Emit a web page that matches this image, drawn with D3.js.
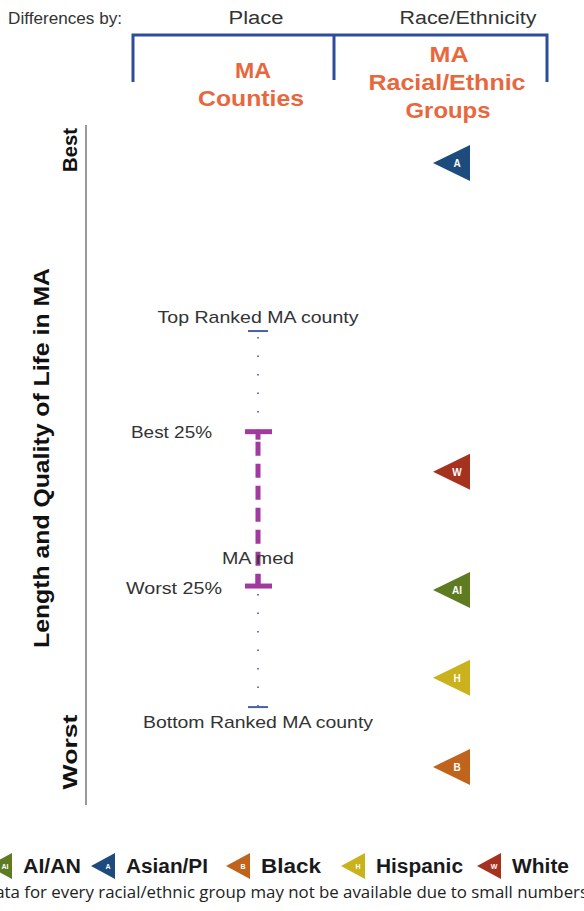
<!DOCTYPE html>
<html>
<head>
<meta charset="utf-8">
<script src="https://cdn.jsdelivr.net/npm/d3@7.9.0/dist/d3.min.js"></script>
<style>
  body { margin: 0; background: #fff; }
  svg { display: block; font-family: Arial, "Liberation Sans", sans-serif; }
</style>
</head>
<body>
<svg id="chart" width="584" height="911"></svg>
<script>
// rank position, 0 = best, 100 = worst
const groups = ['Asian/PI', 'White', 'AI/AN', 'Hispanic', 'Black'];
const groupCodes = ['A', 'W', 'AI', 'H', 'B'];
const groupRanks = [5.6, 51.0, 68.4, 81.3, 94.4];

const countyLabels = ['Top Ranked MA county', 'Best 25%', 'Worst 25%', 'Bottom Ranked MA county'];
const countyRanks = [30.3, 45.1, 67.8, 85.6];
const medianRank = 64.5;

const legendOrder = ['AI/AN', 'Asian/PI', 'Black', 'Hispanic', 'White'];

const colors = {
  'Asian/PI': '#1d4b7e',
  'White': '#a5321f',
  'AI/AN': '#5e7b22',
  'Hispanic': '#c9b21c',
  'Black': '#c0631c'
};

const svg = d3.select('#chart');
const y = d3.scaleLinear().domain([0, 100]).range([125, 805]);

// text helper, the source picture is stretched a bit wide
function txt(t, x, yy, size, opts = {}) {
  const el = svg.append('text').attr('x', x).attr('y', yy)
    .attr('font-size', size)
    .attr('text-anchor', opts.anchor || 'start')
    .attr('fill', opts.fill || '#333')
    .text(t);
  if (opts.bold) el.attr('font-weight', 'bold');
  if (opts.len) el.attr('textLength', opts.len).attr('lengthAdjust', 'spacingAndGlyphs');
  if (opts.family) el.attr('font-family', opts.family);
  return el;
}

// header
txt('Differences by:', 8, 24, 17, { len: 114 });
txt('Place', 256, 24, 18, { anchor: 'middle', len: 55 });
txt('Race/Ethnicity', 468, 24, 18, { anchor: 'middle', len: 137 });

const blue = '#2d4c9c';
svg.append('path')
  .attr('d', 'M133,82 V35 H547 V82 M334,35 V80')
  .attr('fill', 'none').attr('stroke', blue).attr('stroke-width', 3);

const orange = '#e8673c';
[['MA', 253, 78, 36], ['Counties', 251, 106, 106], ['MA', 449, 62, 39],
 ['Racial/Ethnic', 447, 90, 157], ['Groups', 448, 118, 85]]
  .forEach(([t, x, yy, len]) => txt(t, x, yy, 22, { anchor: 'middle', bold: true, fill: orange, len }));

// left axis
svg.append('line').attr('x1', 86).attr('x2', 86).attr('y1', y(0)).attr('y2', y(100))
  .attr('stroke', '#999').attr('stroke-width', 2);

function vtext(t, x, yy, size, len) {
  svg.append('text').attr('transform', `translate(${x},${yy}) rotate(-90)`)
    .attr('text-anchor', 'middle').attr('font-size', size).attr('font-weight', 'bold')
    .attr('textLength', len).attr('lengthAdjust', 'spacingAndGlyphs')
    .attr('fill', '#111').text(t);
}
vtext('Best', 77, 150, 21, 44);
vtext('Length and Quality of Life in MA', 49, 458, 22, 380);
vtext('Worst', 77, 752, 21, 75);

// county distribution
const cx = 258;
const purple = '#a2399f';
const dotCol = '#4a5b7a';

// dotted ends
svg.append('line').attr('x1', cx).attr('x2', cx).attr('y1', y(countyRanks[0]) + 6).attr('y2', y(countyRanks[1]))
  .attr('stroke', dotCol).attr('stroke-width', 1.6).attr('stroke-dasharray', '1.5 17');
svg.append('line').attr('x1', cx).attr('x2', cx).attr('y1', y(countyRanks[2]) + 8).attr('y2', y(countyRanks[3]))
  .attr('stroke', dotCol).attr('stroke-width', 1.6).attr('stroke-dasharray', '1.5 17');

// interquartile dashed
svg.append('line').attr('x1', cx).attr('x2', cx).attr('y1', y(countyRanks[1]) + 10).attr('y2', y(countyRanks[2]) - 2)
  .attr('stroke', purple).attr('stroke-width', 5).attr('stroke-dasharray', '14 8');
svg.append('line').attr('x1', cx).attr('x2', cx).attr('y1', y(countyRanks[1])).attr('y2', y(countyRanks[1]) + 8)
  .attr('stroke', purple).attr('stroke-width', 5);
svg.append('line').attr('x1', cx).attr('x2', cx).attr('y1', y(countyRanks[2]) - 12).attr('y2', y(countyRanks[2]))
  .attr('stroke', purple).attr('stroke-width', 5);

// caps
countyRanks.forEach((r, i) => {
  const quart = i === 1 || i === 2;
  svg.append('line')
    .attr('x1', cx - (quart ? 13 : 10)).attr('x2', cx + (quart ? 14 : 10))
    .attr('y1', y(r)).attr('y2', y(r))
    .attr('stroke', quart ? purple : '#4760a8')
    .attr('stroke-width', quart ? 5 : 2);
});

txt(countyLabels[0], cx, y(countyRanks[0]) - 8, 17, { anchor: 'middle', len: 201 });
txt(countyLabels[1], 212, y(countyRanks[1]) + 6, 17, { anchor: 'end', len: 81 });
txt(countyLabels[2], 222, y(countyRanks[2]) + 8, 17, { anchor: 'end', len: 96 });
txt(countyLabels[3], cx, y(countyRanks[3]) + 21, 17, { anchor: 'middle', len: 230 });
txt('MA med', 258, y(medianRank), 17, { anchor: 'middle', len: 72 });

// race/ethnicity markers
const tri = (tipX, cy, w, h) => `M${tipX},${cy} L${tipX + w},${cy - h / 2} L${tipX + w},${cy + h / 2} Z`;
groups.forEach((g, i) => {
  const cy = y(groupRanks[i]);
  svg.append('path').attr('d', tri(433, cy, 37, 36)).attr('fill', colors[g]);
  txt(groupCodes[i], 457, cy + 4, 10, { anchor: 'middle', bold: true, fill: '#fff' });
});

// legend
const legendX = [-12, 91, 226, 341, 477];
const legendLen = [58, 82, 60, 87, 57];
const legendCode = { 'AI/AN': 'AI', 'Asian/PI': 'A', 'Black': 'B', 'Hispanic': 'H', 'White': 'W' };
legendOrder.forEach((g, i) => {
  const x0 = legendX[i];
  const cy = 866;
  svg.append('path').attr('d', tri(x0, cy, 24, 26)).attr('fill', colors[g]);
  txt(legendCode[g], x0 + 17, cy + 3, 7, { anchor: 'middle', bold: true, fill: '#fff' });
  txt(g, x0 + 35, cy + 7, 20, { bold: true, fill: '#1a1a1a', len: legendLen[i] });
});

txt('Data for every racial/ethnic group may not be available due to small numbers', 588, 898, 16,
  { anchor: 'end', fill: '#222', family: '"Open Sans", sans-serif', len: 605 });
</script>
</body>
</html>
